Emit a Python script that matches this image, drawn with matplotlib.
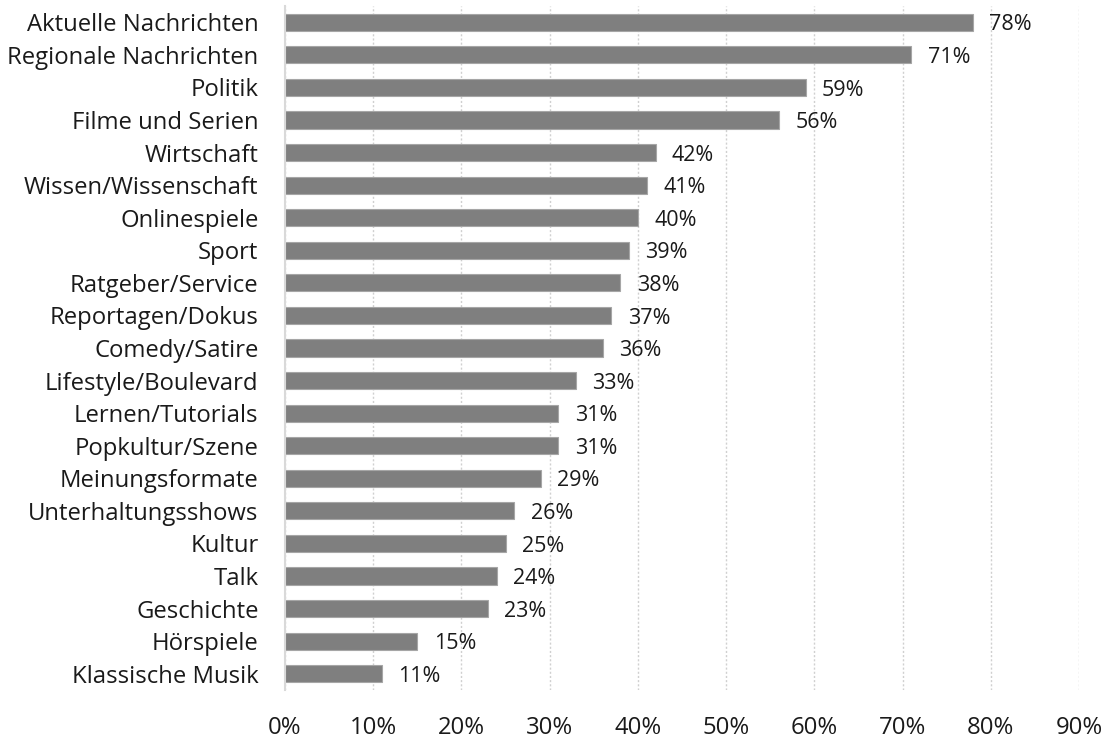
import matplotlib
matplotlib.use("Agg")
import matplotlib.pyplot as plt
from matplotlib.ticker import FuncFormatter

plt.rcParams['font.family'] = ['Open Sans', 'DejaVu Sans']

categories = ["Aktuelle Nachrichten", "Regionale Nachrichten", "Politik", "Filme und Serien",
              "Wirtschaft", "Wissen/Wissenschaft", "Onlinespiele", "Sport", "Ratgeber/Service",
              "Reportagen/Dokus", "Comedy/Satire", "Lifestyle/Boulevard", "Lernen/Tutorials",
              "Popkultur/Szene", "Meinungsformate", "Unterhaltungsshows", "Kultur", "Talk",
              "Geschichte", "Hörspiele", "Klassische Musik"]
values = [78, 71, 59, 56, 42, 41, 40, 39, 38, 37, 36, 33, 31, 31, 29, 26, 25, 24, 23, 15, 11]
x_ticks = [0, 10, 20, 30, 40, 50, 60, 70, 80, 90]

fig = plt.figure(figsize=(11.13, 7.4), dpi=100)
ax = fig.add_axes([285/1113, 1-690/740, (1079-285)/1113, 684/740])

y = list(range(len(categories)))
ax.barh(y, values, height=0.53, color='#7f7f7f', edgecolor='#a6a6a6', linewidth=0.8, zorder=3)
for yi, v in zip(y, values):
    ax.text(v + 1.85, yi + 0.08, f"{v}%", va='center', ha='left', fontsize=15.5, color='#1a1a1a')

ax.set_ylim(len(categories) - 0.5, -0.5)
ax.set_xlim(0, 90)
ax.set_yticks(y)
ax.set_yticklabels(categories, fontsize=17.2, color='#1a1a1a')
ax.set_xticks(x_ticks)
ax.xaxis.set_major_formatter(FuncFormatter(lambda v, p: f"{int(v)}%"))
ax.tick_params(axis='x', length=0, pad=18.5, labelsize=17.2, labelcolor='#1a1a1a')
ax.tick_params(axis='y', length=0, pad=19)

ax.grid(axis='x', linestyle=(0, (1.5, 1.5)), color='#d0d0d0', linewidth=1, zorder=0)
for s in ['top', 'right', 'bottom']:
    ax.spines[s].set_visible(False)
ax.spines['left'].set_color('#d9d9d9')
ax.spines['left'].set_linewidth(1.5)
ax.spines['left'].set_zorder(4)

fig.savefig("out.png", dpi=100)
